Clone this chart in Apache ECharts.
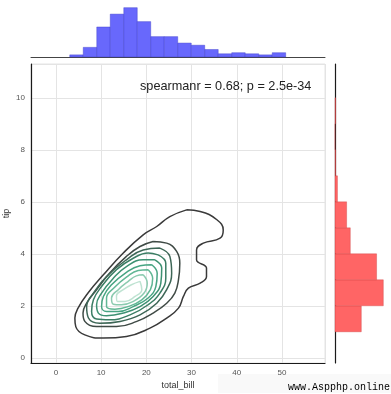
<!DOCTYPE html>
<html><head><meta charset="utf-8">
<script src="https://cdn.jsdelivr.net/npm/echarts@6/dist/echarts.min.js"></script>
<style>html,body{margin:0;padding:0;background:#fff}#c{width:391px;height:394px}</style>
</head><body><div id="c"></div>
<script>
// ---- data ----
const billEdges = [3.07, 6.05, 9.04, 12.02, 15.01, 17.99, 20.97, 23.96, 26.94, 29.93, 32.91, 35.89, 38.88, 41.86, 44.85, 47.83, 50.81];
const billCounts = [2, 9, 28, 40, 46, 33, 19, 19, 13, 11, 7, 3, 4, 3, 2, 4];
const tipEdges = [1, 2, 3, 4, 5, 6, 7, 8, 9, 10];
const tipCounts = [43, 79, 68, 25, 19, 4, 1, 0, 1];
const xTicks = [0, 10, 20, 30, 40, 50];
const yTicks = [0, 2, 4, 6, 8, 10];
const xName = 'total_bill';
const yName = 'tip';
const annotation = 'spearmanr = 0.68; p = 2.5e-34';
const watermark = 'www.Aspphp.online';

// KDE contour lines (outer -> inner), [total_bill, tip]
const contour1 = [[28.9,5.69],[31.9,5.63],[35.6,5.31],[37.0,4.92],[36.3,4.60],[32.6,4.41],[31.1,4.15],[31.1,3.77],[33.3,3.45],[33.3,3.13],[31.9,2.87],[29.3,2.68],[28.2,2.36],[27.1,1.91],[24.5,1.53],[20.8,1.14],[15.6,0.82],[10.5,0.76],[6.4,0.88],[4.4,1.20],[4.2,1.53],[4.9,1.91],[7.1,2.49],[10.5,3.19],[14.9,4.03],[19.3,4.73],[22.3,5.05],[25.2,5.43]];
const contour2 = [[21.5,4.47],[24.5,4.41],[26.7,4.09],[27.4,3.64],[27.1,3.0],[26.3,2.49],[24.5,2.10],[21.5,1.72],[17.9,1.40],[13.4,1.20],[9.0,1.20],[6.4,1.40],[6.0,1.72],[6.8,2.10],[9.0,2.62],[11.9,3.26],[15.6,3.90],[18.6,4.28]];
const contour3 = [[23.0,4.22],[25.2,3.90],[25.6,3.25],[24.5,2.62],[22.3,2.10],[18.6,1.65],[14.2,1.40],[9.7,1.33],[7.2,1.53],[6.8,1.97],[8.3,2.49],[11.2,3.13],[15.6,3.77],[19.3,4.15]];
const contour4 = [[22.6,3.96],[24.3,3.64],[24.3,3.06],[23.0,2.49],[20.4,2.04],[16.4,1.65],[11.9,1.46],[9.0,1.49],[7.9,1.78],[8.3,2.23],[10.1,2.74],[13.4,3.39],[17.1,3.83],[20.4,4.03]];
const contour5 = [[21.9,3.77],[23.4,3.45],[23.2,2.87],[21.5,2.36],[18.6,1.97],[14.9,1.72],[11.2,1.62],[9.4,1.72],[9.0,2.04],[10.1,2.49],[12.7,3.06],[15.6,3.51],[19.3,3.77]];
const contour6 = [[21.2,3.58],[22.4,3.25],[22.1,2.74],[20.4,2.30],[17.1,1.97],[13.8,1.78],[11.2,1.78],[10.1,1.97],[10.5,2.36],[12.3,2.81],[15.3,3.25],[18.6,3.54]];
const contour7 = [[20.4,3.39],[21.4,3.06],[20.9,2.62],[19.0,2.23],[16.0,1.97],[13.05,1.87],[11.2,1.97],[11.2,2.30],[13.05,2.72],[15.6,3.10],[18.2,3.36]];
const contour8 = [[19.3,3.19],[20.2,2.87],[19.5,2.49],[17.1,2.17],[14.5,2.04],[12.7,2.06],[12.3,2.30],[13.8,2.62],[16.0,2.94],[17.8,3.15]];
const contour9 = [[18.6,2.94],[19.0,2.62],[17.5,2.36],[15.3,2.17],[13.6,2.17],[13.4,2.39],[14.9,2.62],[16.7,2.81]];
const contours = [contour1, contour2, contour3, contour4, contour5, contour6, contour7, contour8, contour9];

// ---- styles ----
const contourColors = ['#3a3a3a', '#3f4a45', '#3d6656', '#3b7d64', '#3d9172', '#47a482', '#62b795', '#8ccbb0', '#bfe3d2'];
const gridColor = '#e4e4e4';
const font = '"Liberation Sans", Arial, sans-serif';

const chart = echarts.init(document.getElementById('c'), null, {renderer: 'canvas'});

const histTop = billCounts.map((c, i) => [billEdges[i], billEdges[i + 1], c]);
const histRight = tipCounts.map((c, i) => [tipEdges[i], tipEdges[i + 1], c]);

const contourSeries = contours.map((pts, i) => ({
  type: 'line', xAxisIndex: 0, yAxisIndex: 0,
  data: pts.concat([pts[0]]),
  smooth: 0.45, showSymbol: false, symbol: 'none', silent: true,
  lineStyle: {color: contourColors[i], width: 1.5},
  z: 3
}));

chart.setOption({
  animation: false,
  backgroundColor: '#fff',
  title: {
    text: annotation, left: 140, top: 80, padding: 0,
    textStyle: {fontSize: 12.7, fontWeight: 'normal', color: '#222', fontFamily: font}
  },
  grid: [
    {left: 31, top: 64, width: 294, height: 299, show: true, borderColor: gridColor, borderWidth: 1, outerBoundsMode: 'none', containLabel: false},
    {left: 31, top: 5, width: 294, height: 52, outerBoundsMode: 'none', containLabel: false},
    {left: 335, top: 64, width: 56, height: 299, outerBoundsMode: 'none', containLabel: false}
  ],
  xAxis: [
    {gridIndex: 0, type: 'value', min: -5.5, max: 59.5, minInterval: 10, maxInterval: 10, splitNumber: 6,
     name: xName, nameLocation: 'middle', nameGap: 18, nameMoveOverlap: false,
     nameTextStyle: {fontSize: 9, color: '#333', fontFamily: font},
     axisLine: {show: true, onZero: false, lineStyle: {color: '#1a1a1a', width: 1.2}},
     axisTick: {show: false},
     axisLabel: {fontSize: 8, color: '#555', margin: 6, fontFamily: font, showMinLabel: false, showMaxLabel: false,
       formatter: v => xTicks.includes(v) ? String(v) : ''},
     splitLine: {show: true, lineStyle: {color: gridColor, width: 1}}},
    {gridIndex: 1, type: 'value', min: -5.5, max: 59.5,
     axisLine: {show: true, onZero: false, lineStyle: {color: '#444', width: 1}},
     axisTick: {show: false}, axisLabel: {show: false}, splitLine: {show: false}},
    {gridIndex: 2, type: 'value', min: 0, max: 91.6, show: false}
  ],
  yAxis: [
    {gridIndex: 0, type: 'value', min: -0.2, max: 11.3, minInterval: 2, maxInterval: 2, splitNumber: 6,
     name: yName, nameLocation: 'middle', nameGap: 20, nameRotate: 90, nameMoveOverlap: false,
     nameTextStyle: {fontSize: 9, color: '#333', fontFamily: font},
     axisLine: {show: true, onZero: false, lineStyle: {color: '#1a1a1a', width: 1.2}},
     axisTick: {show: false},
     axisLabel: {fontSize: 8, color: '#555', margin: 6, fontFamily: font, showMinLabel: false, showMaxLabel: false,
       formatter: v => yTicks.includes(v) ? String(v) : ''},
     splitLine: {show: true, lineStyle: {color: gridColor, width: 1}}},
    {gridIndex: 1, type: 'value', min: 0, max: 48.5, show: false},
    {gridIndex: 2, type: 'value', min: -0.2, max: 11.3,
     axisLine: {show: true, onZero: false, lineStyle: {color: '#1a1a1a', width: 1.2}},
     axisTick: {show: false}, axisLabel: {show: false}, splitLine: {show: false}}
  ],
  series: [
    {
      type: 'custom', xAxisIndex: 1, yAxisIndex: 1, data: histTop,
      encode: {x: [0, 1], y: 2},
      renderItem: function (params, api) {
        const p0 = api.coord([api.value(0), 0]);
        const p1 = api.coord([api.value(1), api.value(2)]);
        return {type: 'rect', shape: {x: p0[0], y: p1[1], width: p1[0] - p0[0], height: p0[1] - p1[1]},
          style: {fill: 'rgba(96,96,252,0.95)', stroke: 'rgba(60,60,200,0.7)', lineWidth: 0.6}};
      }
    },
    {
      type: 'custom', xAxisIndex: 2, yAxisIndex: 2, data: histRight,
      encode: {x: 2, y: [0, 1]},
      renderItem: function (params, api) {
        const p0 = api.coord([0, api.value(0)]);
        const p1 = api.coord([api.value(2), api.value(1)]);
        return {type: 'rect', shape: {x: p0[0], y: p1[1], width: p1[0] - p0[0], height: p0[1] - p1[1]},
          style: {fill: 'rgba(255,98,98,0.98)', stroke: 'rgba(200,60,60,0.6)', lineWidth: 0.6}};
      }
    }
  ].concat(contourSeries),
  graphic: [
    {type: 'rect', left: 218, top: 374, shape: {width: 173, height: 19}, style: {fill: '#f9f9f9'}, z: 0, silent: true},
    {type: 'text', right: 1, top: 382, style: {text: watermark, font: '10px "Liberation Mono", monospace', fill: '#000'}, z: 10}
  ]
});
</script>
</body></html>
